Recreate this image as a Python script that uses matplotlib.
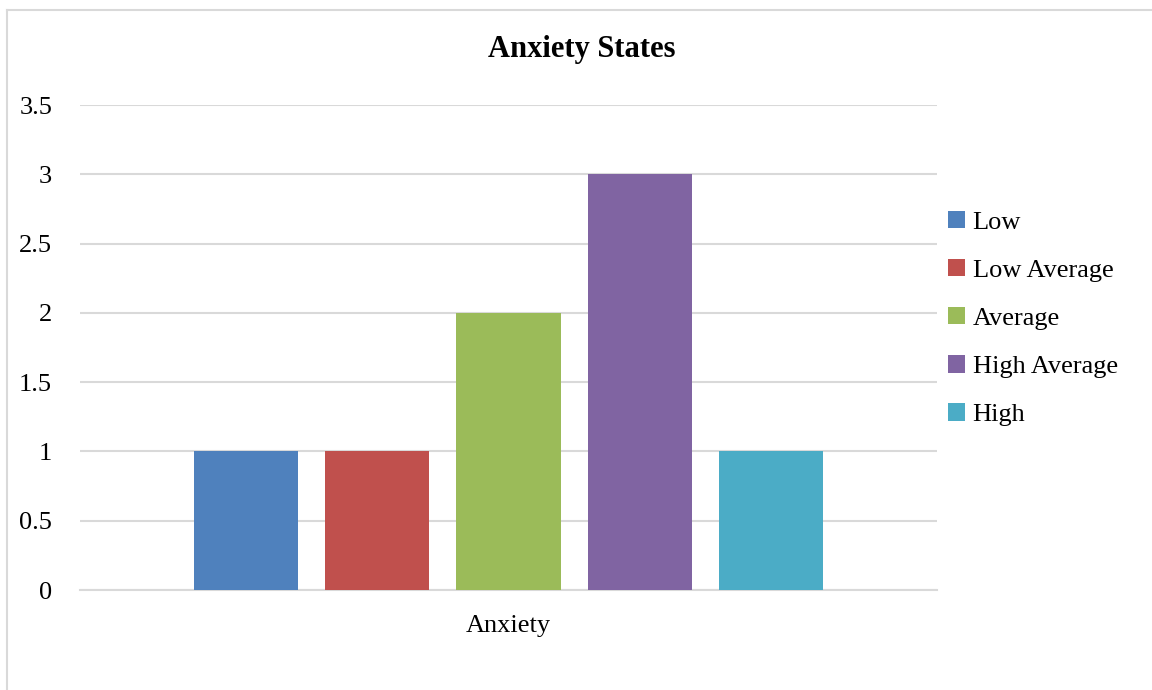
import matplotlib.pyplot as plt
from matplotlib.lines import Line2D

category = "Anxiety"
series = ["Low", "Low Average", "Average", "High Average", "High"]
values = [1, 1, 2, 3, 1]
colors = ["#4f81bd", "#c0504d", "#9bbb59", "#8064a2", "#4bacc6"]

plt.rcParams["font.family"] = ["Liberation Serif", "DejaVu Serif"]

fig = plt.figure(figsize=(11.52, 6.9), dpi=100)
ax = fig.add_axes([0.0694, 0.1449, 0.7440, 0.7029])

step = 0.1534
width = 0.1214
for i, (name, v, c) in enumerate(zip(series, values, colors)):
    ax.bar(0 + (i - 2) * step, v, width=width, color=c, label=name, zorder=3)

ax.set_xlim(-0.5, 0.5)
ax.set_ylim(0, 3.5)
ax.set_yticks([0, 0.5, 1, 1.5, 2, 2.5, 3, 3.5])
ax.set_yticklabels(["0", "0.5", "1", "1.5", "2", "2.5", "3", "3.5"])
ax.set_xticks([0])
ax.set_xticklabels([category])
ax.grid(axis="y", color="#d9d9d9", linewidth=1.5, zorder=0)
for s in ["top", "right", "left"]:
    ax.spines[s].set_visible(False)
ax.spines["bottom"].set_color("#d9d9d9")
ax.spines["bottom"].set_linewidth(1.5)
ax.tick_params(length=0, labelsize=19, colors="black")
ax.tick_params(axis="y", pad=20)
ax.tick_params(axis="x", pad=18)

# title is centred on the whole chart area, not the plot area
fig.text(582 / 1152, 1 - 50 / 690, "Anxiety States", fontsize=22,
         fontweight="bold", ha="center", va="center")

ax.legend(loc="center left", bbox_to_anchor=(1.0, 0.56), frameon=False,
          fontsize=19, handlelength=0.65, handleheight=0.65, handletextpad=0.3,
          labelspacing=0.95, borderaxespad=0.0)

# chart border (top and left edges visible in the crop)
fig.add_artist(Line2D([7 / 1152, 7 / 1152], [0, 1 - 10 / 690],
                      transform=fig.transFigure, color="#d9d9d9", linewidth=1.5))
fig.add_artist(Line2D([7 / 1152, 1], [1 - 10 / 690, 1 - 10 / 690],
                      transform=fig.transFigure, color="#d9d9d9", linewidth=1.5))

fig.savefig("out.png", dpi=100)
